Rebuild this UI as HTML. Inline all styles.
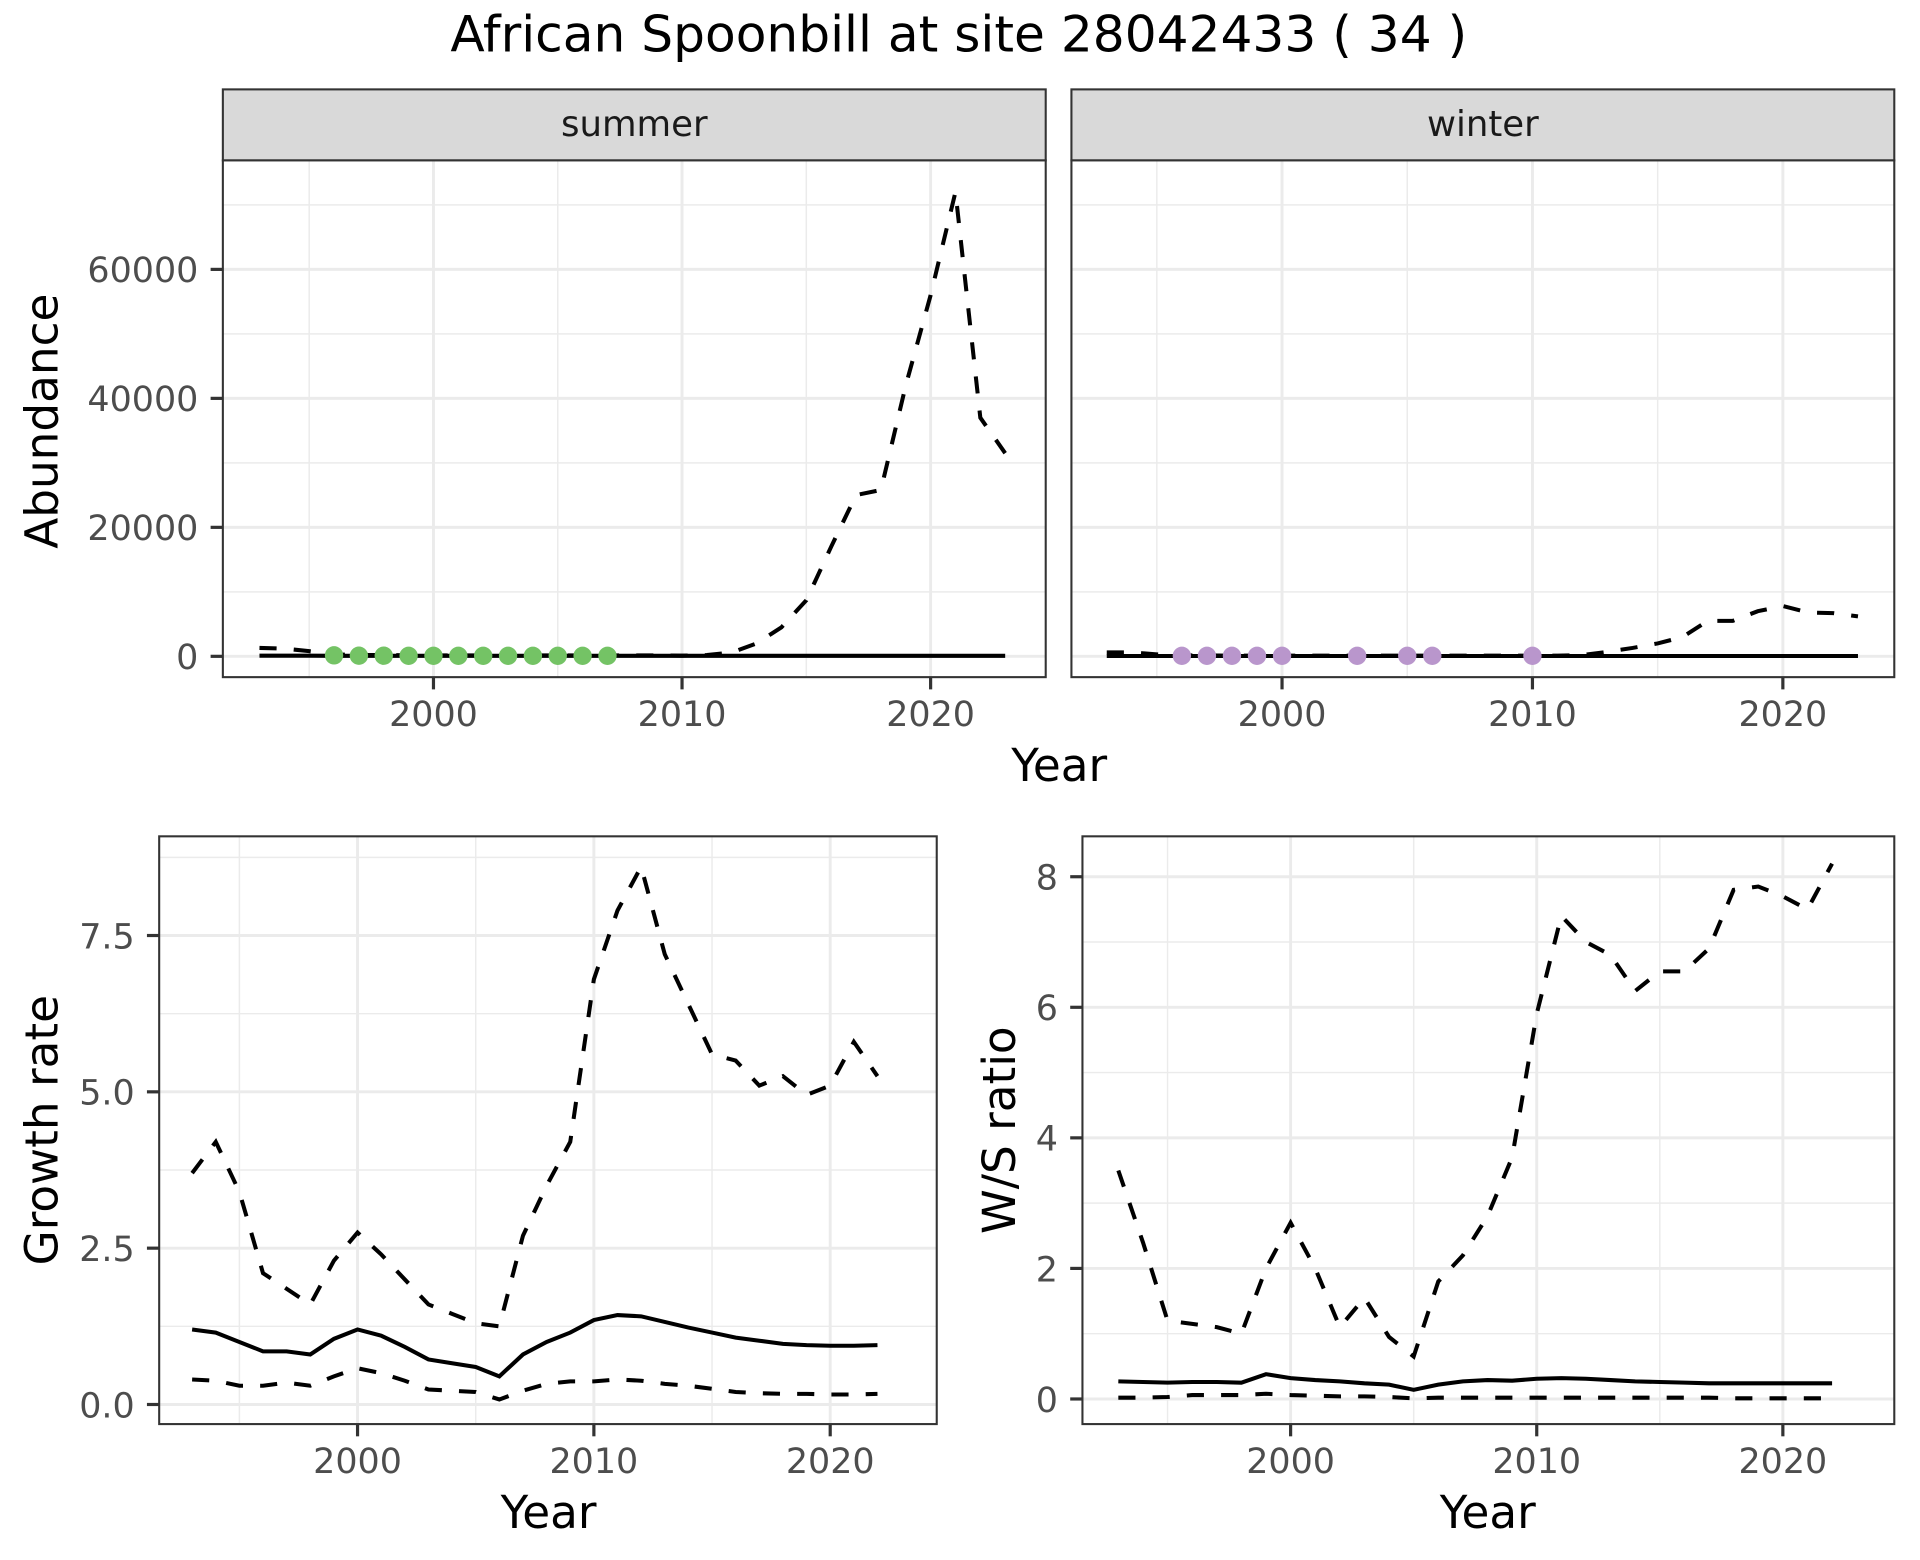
<!DOCTYPE html>
<html><head><meta charset="utf-8"><style>html,body{margin:0;padding:0;background:#fff}svg{display:block}</style></head>
<body>
<svg id="fig" width="1920" height="1560" viewBox="0 0 1568 1274" xmlns="http://www.w3.org/2000/svg" font-family="'DejaVu Sans','Liberation Sans',sans-serif">
<rect width="1568" height="1274" fill="#fff"/>
<text x="783" y="42" font-size="41" text-anchor="middle" fill="#000">African Spoonbill at site 28042433 ( 34 )</text>
<g id="g"></g>
</svg>
<script>
const absYears=[1993,1994,1995,1996,1997,1998,1999,2000,2001,2002,2003,2004,2005,2006,2007,2008,2009,2010,2011,2012,2013,2014,2015,2016,2017,2018,2019,2020,2021,2022,2023];
const summerUpper=[1300,1200,800,300,200,200,150,150,150,150,150,150,150,150,150,150,150,100,200,600,2000,4500,8700,17000,25000,25800,42000,56000,72000,37000,31500];
const summerMean=[100,100,100,80,80,80,80,80,80,80,80,80,80,80,80,80,80,80,80,80,80,80,80,80,80,80,80,80,80,80,80];
const summerPtYears=[1996,1997,1998,1999,2000,2001,2002,2003,2004,2005,2006,2007];
const summerPtVals=[150,100,100,80,80,80,80,80,80,80,80,80];
const winterUpper=[600,600,300,150,150,100,100,100,100,100,100,100,100,100,100,100,100,100,100,200,700,1300,2000,3000,5500,5500,7000,7800,6800,6700,6200];
const winterMean=[50,50,50,50,50,50,50,50,50,50,50,50,50,50,50,50,50,50,50,50,50,50,50,50,50,50,50,50,50,50,50];
const winterPtYears=[1996,1997,1998,1999,2000,2003,2005,2006,2010];
const winterPtVals=[80,80,80,80,80,80,80,80,80];
const rateYears=[1993,1994,1995,1996,1997,1998,1999,2000,2001,2002,2003,2004,2005,2006,2007,2008,2009,2010,2011,2012,2013,2014,2015,2016,2017,2018,2019,2020,2021,2022];
const growthUpper=[3.7,4.2,3.4,2.1,1.85,1.6,2.3,2.75,2.4,2.0,1.6,1.45,1.3,1.25,2.7,3.5,4.2,6.8,7.9,8.6,7.2,6.4,5.6,5.5,5.1,5.25,4.95,5.1,5.8,5.25];
const growthMean=[1.2,1.15,1.0,0.85,0.85,0.8,1.05,1.2,1.1,0.92,0.72,0.66,0.6,0.45,0.8,1.0,1.15,1.35,1.43,1.41,1.32,1.23,1.15,1.07,1.02,0.97,0.95,0.94,0.94,0.95];
const growthLower=[0.4,0.38,0.3,0.3,0.35,0.3,0.45,0.58,0.5,0.38,0.24,0.22,0.2,0.08,0.22,0.33,0.37,0.37,0.4,0.38,0.33,0.3,0.25,0.2,0.18,0.17,0.17,0.16,0.16,0.17];
const wsUpper=[3.5,2.4,1.2,1.15,1.1,1.0,2.0,2.7,2.0,1.1,1.55,0.95,0.65,1.8,2.2,2.8,3.7,5.9,7.4,7.0,6.8,6.25,6.55,6.55,6.9,7.8,7.85,7.7,7.5,8.2];
const wsMean=[0.27,0.26,0.25,0.26,0.26,0.25,0.38,0.32,0.29,0.27,0.24,0.22,0.14,0.22,0.27,0.29,0.28,0.31,0.32,0.31,0.29,0.27,0.26,0.25,0.24,0.24,0.24,0.24,0.24,0.24];
const wsLower=[0.02,0.02,0.03,0.06,0.06,0.06,0.08,0.06,0.05,0.04,0.04,0.03,0.01,0.02,0.02,0.02,0.02,0.02,0.02,0.02,0.02,0.02,0.02,0.02,0.02,0.01,0.01,0.01,0.01,0.01];
const xTicks=[2000,2010,2020], xMinor=[1995,2005,2015];
const abTicks=[0,20000,40000,60000], abMinor=[10000,30000,50000,70000];
const grTicks=[0,2.5,5,7.5], grTickLabels=["0.0","2.5","5.0","7.5"], grMinor=[1.25,3.75,6.25,8.75];
const wsTicks=[0,2,4,6,8], wsMinor=[1,3,5,7];

const NS="http://www.w3.org/2000/svg", G=document.getElementById('g');
const TF=28.5;
function el(t,a,p){const e=document.createElementNS(NS,t);for(const k in a)e.setAttribute(k,a[k]);(p||G).appendChild(e);return e;}
function lin(d0,d1,r0,r1){return v=>r0+(v-d0)*(r1-r0)/(d1-d0);}
function panel(name,x0,x1,y0,y1,sx,sy,yT,yTL,yMin,showY,showX){
  const g=el('g',{});
  el('rect',{x:x0,y:y0,width:x1-x0,height:y1-y0,fill:'#fff'},g);
  xMinor.forEach(v=>el('line',{x1:sx(v),x2:sx(v),y1:y0,y2:y1,stroke:'#ebebeb','stroke-width':1.2},g));
  yMin.forEach(v=>{if(sy(v)>y0)el('line',{x1:x0,x2:x1,y1:sy(v),y2:sy(v),stroke:'#ebebeb','stroke-width':1.2},g)});
  xTicks.forEach(v=>el('line',{x1:sx(v),x2:sx(v),y1:y0,y2:y1,stroke:'#ebebeb','stroke-width':2.4},g));
  yT.forEach(v=>el('line',{x1:x0,x2:x1,y1:sy(v),y2:sy(v),stroke:'#ebebeb','stroke-width':2.4},g));
  if(showX)xTicks.forEach(v=>{el('line',{x1:sx(v),x2:sx(v),y1:y1,y2:y1+10,stroke:'#333','stroke-width':2.6},g);
    const t=el('text',{x:sx(v),y:y1+40,'font-size':TF,'text-anchor':'middle',fill:'#4d4d4d'},g);t.textContent=v;
    });
  if(showY)yT.forEach((v,i)=>{el('line',{x1:x0-10,x2:x0,y1:sy(v),y2:sy(v),stroke:'#333','stroke-width':2.6},g);
    const t=el('text',{x:x0-20,y:sy(v)+10.5,'font-size':TF,'text-anchor':'end',fill:'#4d4d4d'},g);t.textContent=yTL[i];
    });
  return g;
}
function line(g,xs,ys,sx,sy,dash,name){
  const p=el('polyline',{points:xs.map((x,i)=>sx(x)+','+sy(ys[i])).join(' '),fill:'none',stroke:'#000','stroke-width':3.3},g);
  if(dash)p.setAttribute('stroke-dasharray','14,14');
  
}
function border(g,x0,x1,y0,y1){el('rect',{x:x0,y:y0,width:x1-x0,height:y1-y0,fill:'none',stroke:'#333','stroke-width':1.7},g);}
function strip(x0,x1,label){
  const s=el('rect',{x:x0,y:73,width:x1-x0,height:58,fill:'#d9d9d9',stroke:'#333','stroke-width':1.7});
  
  const t=el('text',{x:(x0+x1)/2,y:111,'font-size':29,'text-anchor':'middle',fill:'#1a1a1a'});t.textContent=label;
  
}
const abY=lin(0,60000,536,220);
[[182,854,'summer',summerUpper,summerMean,summerPtYears,summerPtVals,'#74c365',lin(2000,2020,354,760),true],
 [875,1547,'winter',winterUpper,winterMean,winterPtYears,winterPtVals,'#b996cc',lin(2000,2020,1047,1456),false]].forEach(c=>{
  const [x0,x1,lab,up,mn,py,pv,col,sx,sy0]=c;
  strip(x0,x1,lab);
  const g=panel('panel-'+lab,x0,x1,131,553,sx,abY,abTicks,abTicks.map(String),abMinor,sy0,true);
  line(g,absYears,up,sx,abY,true,lab+'-upper-line');
  line(g,absYears,mn,sx,abY,false,lab+'-mean-line');
  py.forEach((y,i)=>{const c2=el('circle',{cx:sx(y),cy:abY(pv[i]),r:7.5,fill:col},g);
    });
  border(g,x0,x1,131,553);
});
{const sx=lin(2000,2020,292,678),sy=lin(0,7.5,1147,764);
 const g=panel('growth-rate-panel',130,765,683,1163,sx,sy,grTicks,grTickLabels,grMinor,true,true);
 line(g,rateYears,growthUpper,sx,sy,true,'growth-upper-line');
 line(g,rateYears,growthMean,sx,sy,false,'growth-mean-line');
 line(g,rateYears,growthLower,sx,sy,true,'growth-lower-line');
 border(g,130,765,683,1163);}
{const sx=lin(2000,2020,1054,1456),sy=lin(0,8,1142.5,716);
 const g=panel('ws-ratio-panel',884,1547,683,1163,sx,sy,wsTicks,wsTicks.map(String),wsMinor,true,true);
 line(g,rateYears,wsUpper,sx,sy,true,'ws-upper-line');
 line(g,rateYears,wsMean,sx,sy,false,'ws-mean-line');
 line(g,rateYears,wsLower,sx,sy,true,'ws-lower-line');
 border(g,884,1547,683,1163);}
function title(txt,x,y,rot,name){const t=el('text',{x:x,y:y,'font-size':37,'text-anchor':'middle',fill:'#000'});
 if(rot)t.setAttribute('transform','rotate(-90 '+x+' '+y+')');t.textContent=txt;
 }
title('Year',865,638,false,'top-x-axis-title');
title('Abundance',47,344,true,'abundance-axis-title');
title('Year',448,1248,false,'growth-x-axis-title');
title('Growth rate',47,923,true,'growth-y-axis-title');
title('Year',1215,1248,false,'ws-x-axis-title');
title('W/S ratio',829,923,true,'ws-y-axis-title');
</script>
</body></html>
